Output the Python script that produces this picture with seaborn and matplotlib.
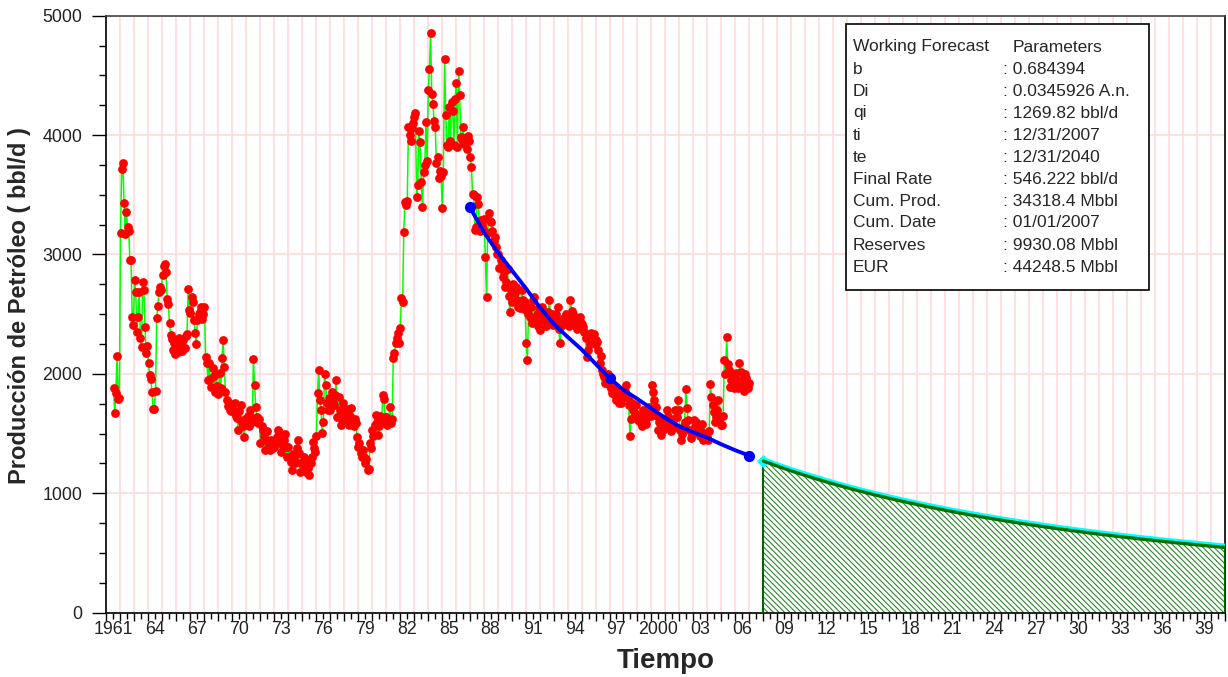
import numpy as np
import pandas as pd
import seaborn as sns
import matplotlib.pyplot as plt
import matplotlib.transforms as mtransforms
from matplotlib.ticker import MultipleLocator, FixedLocator, FuncFormatter, NullFormatter
from matplotlib.patches import Rectangle

# monthly oil rate (bbl/d), Jul 1961 .. Dec 2006
rate_1960s = [1880, 1670, 1840, 2150, 1790, 1800,
              3180, 3720, 3770, 3430, 3170, 3360, 3230, 3200, 2950, 2950, 2480, 2410,
              2786, 2690, 2354, 2479, 2690, 2300, 2228, 2773, 2703, 2396, 2172, 2230,
              2094, 1991, 1955, 1851, 1703, 1710, 1860, 2466, 2571, 2689, 2731, 2700,
              2828, 2904, 2920, 2850, 2624, 2585, 2429, 2325, 2290, 2200, 2260, 2170,
              2230, 2180, 2300, 2210, 2250, 2190, 2280, 2220, 2316, 2330, 2708, 2535,
              2506, 2642, 2600, 2450, 2340, 2250, 2450, 2500, 2521, 2560, 2460, 2500,
              2563, 2144, 2090, 1949, 2088, 1960, 1894, 2050, 1980, 1850, 2000, 1900,
              1832, 2005, 1880, 2130, 2284, 2060, 1850, 1782, 1730, 1760, 1700, 1690]
rate_1970s = [1725, 1683, 1760, 1650, 1628, 1530, 1690, 1740, 1600, 1560, 1475, 1620,
              1600, 1650, 1560, 1700, 1640, 1600, 2122, 1906, 1726, 1640, 1590, 1620,
              1420, 1560, 1530, 1480, 1360, 1450, 1520, 1400, 1363, 1450, 1420, 1380,
              1390, 1440, 1475, 1530, 1510, 1420, 1350, 1400, 1450, 1500, 1390, 1306,
              1390, 1306, 1260, 1195, 1330, 1290, 1250, 1380, 1447, 1334, 1180, 1250,
              1250, 1300, 1220, 1180, 1260, 1210, 1152, 1250, 1300, 1433, 1380, 1350,
              1480, 1840, 2033, 1783, 1700, 1503, 1600, 1997, 1906, 1754, 1700, 1800,
              1700, 1850, 1760, 1740, 1820, 1948, 1642, 1810, 1700, 1573, 1620, 1760,
              1680, 1620, 1710, 1614, 1573, 1650, 1712, 1600, 1560, 1620, 1590, 1475,
              1390, 1420, 1334, 1300, 1360, 1306, 1250, 1290, 1195, 1200, 1420, 1380]
rate_1980s = [1530, 1480, 1573, 1656, 1600, 1489, 1560, 1650, 1600, 1824, 1790, 1640,
              1642, 1573, 1600, 1726, 1586, 1620, 2130, 2172, 2256, 2300, 2340, 2255,
              2382, 2633, 2600, 3191, 3442, 3414, 3450, 4071, 4001, 3954, 4060, 4100,
              4154, 4182, 3484, 3582, 4038, 3940, 3610, 3400, 3694, 3750, 4108, 3780,
              4378, 4551, 4853, 4345, 4261, 4122, 4071, 3763, 3820, 3638, 3700, 3660,
              3387, 3694, 4635, 4168, 3913, 3900, 4238, 3950, 4281, 4200, 3920, 4300,
              4435, 3898, 4540, 4335, 3980, 3960, 4071, 3926, 3950, 3885, 3990, 3950,
              3820, 3733, 3507, 3500, 3205, 3230, 3484, 3422, 3200, 3288, 3250, 3210,
              3300, 2976, 2641, 3180, 3344, 3280, 3269, 3200, 3116, 3150, 3060, 3000,
              3005, 2885, 2950, 2900, 2815, 2850, 2730, 2770, 2880, 2650, 2522, 2700]
rate_1990s = [2605, 2750, 2680, 2731, 2619, 2563, 2600, 2550, 2700, 2619, 2540, 2600,
              2256, 2117, 2500, 2480, 2560, 2424, 2620, 2647, 2450, 2500, 2400, 2550,
              2368, 2450, 2563, 2500, 2480, 2400, 2420, 2520, 2619, 2450, 2500, 2410,
              2470, 2430, 2500, 2563, 2380, 2256, 2400, 2460, 2430, 2480, 2500, 2420,
              2450, 2400, 2619, 2530, 2500, 2430, 2460, 2400, 2380, 2450, 2480, 2430,
              2420, 2396, 2350, 2300, 2144, 2200, 2280, 2250, 2340, 2300, 2330, 2250,
              2280, 2270, 2200, 2089, 2150, 2033, 2000, 1977, 1921, 1950, 2000, 1960,
              1900, 1880, 1838, 1870, 1820, 1780, 1850, 1800, 1760, 1754, 1810, 1830,
              1810, 1860, 1907, 1800, 1740, 1480, 1620, 1754, 1700, 1670, 1740, 1650,
              1614, 1650, 1600, 1560, 1700, 1660, 1600, 1580, 1640, 1720, 1680, 1650]
rate_2000s = [1907, 1851, 1782, 1720, 1650, 1530, 1600, 1614, 1488, 1530, 1580, 1560,
              1600, 1698, 1650, 1560, 1520, 1600, 1550, 1620, 1700, 1640, 1780, 1698,
              1530, 1446, 1500, 1560, 1600, 1871, 1712, 1614, 1530, 1460, 1500, 1520,
              1614, 1560, 1600, 1502, 1550, 1480, 1520, 1580, 1450, 1500, 1460, 1470,
              1446, 1520, 1915, 1810, 1740, 1684, 1600, 1642, 1700, 1780, 1640, 1572,
              1572, 1650, 2117, 2000, 2306, 2080, 2033, 1893, 1950, 2000, 1880, 1960,
              2005, 1940, 1880, 2089, 2020, 1950, 1900, 1860, 2000, 1963, 1880, 1920]

# decline fit through the history (blue line)
fit_years = list(range(1987, 2008))
fit_rate = [3400, 3190, 3020, 2870, 2720, 2560, 2420, 2310, 2205, 2085, 1965,
            1865, 1790, 1710, 1630, 1560, 1510, 1465, 1410, 1360, 1315]

# working forecast 12/31/2007 .. 12/31/2040
forecast_years = list(range(2008, 2042))
forecast_rate = [1269.8, 1227.1, 1186.8, 1148.7, 1112.6, 1078.3, 1045.8, 1014.9,
                 985.6, 957.6, 930.9, 905.5, 881.2, 858.0, 835.8, 814.5, 794.2,
                 774.7, 755.9, 738.0, 720.7, 704.1, 688.1, 672.8, 658.0, 643.8,
                 630.0, 616.8, 604.0, 591.6, 579.7, 568.2, 557.0, 546.2]

param_names = ['b', 'Di', 'qi', 'ti', 'te', 'Final Rate', 'Cum. Prod.',
               'Cum. Date', 'Reserves', 'EUR']
param_values = ['0.684394', '0.0345926 A.n.', '1269.82 bbl/d', '12/31/2007',
                '12/31/2040', '546.222 bbl/d', '34318.4 Mbbl', '01/01/2007',
                '9930.08 Mbbl', '44248.5 Mbbl']

rate = rate_1960s + rate_1970s + rate_1980s + rate_1990s + rate_2000s
months = pd.date_range('1961-07-01', periods=len(rate), freq='MS')
hist = pd.DataFrame({'t': months.year + (months.month - 0.5) / 12, 'rate': rate})
fit = pd.DataFrame({'t': fit_years, 'rate': fit_rate})
fc = pd.DataFrame({'t': forecast_years, 'rate': forecast_rate})

sns.set_style('ticks')
plt.rcParams['font.family'] = ['Liberation Sans', 'DejaVu Sans']
plt.rcParams['hatch.color'] = '#2a8a2a'
plt.rcParams['hatch.linewidth'] = 0.8

fig = plt.figure(figsize=(12.28, 6.77), dpi=100)
ax = fig.add_axes([0.0863, 0.0950, 0.9112, 0.8818])

# forecast area
ax.fill_between(fc['t'], fc['rate'], 0, facecolor='white', edgecolor='#2a8a2a',
                hatch='\\\\\\\\\\\\', linewidth=0, zorder=2)
ax.vlines([forecast_years[0], forecast_years[-1]], 0, [forecast_rate[0], forecast_rate[-1]],
          color='#006400', lw=1.5, zorder=3)

# history
sns.lineplot(data=hist, x='t', y='rate', color='#00ff00', lw=1.1, estimator=None, ax=ax, zorder=3)
sns.scatterplot(data=hist, x='t', y='rate', color='#ff0000', s=40, marker='o',
                linewidth=0, ax=ax, zorder=4)

# fit
sns.lineplot(data=fit, x='t', y='rate', color='#0000ff', lw=2.8, estimator=None, ax=ax, zorder=5)
sns.scatterplot(data=fit.iloc[[0, 10, 20]], x='t', y='rate', color='#0000ff', s=65,
                marker='o', linewidth=0, ax=ax, zorder=5)

# forecast curve
shift = mtransforms.offset_copy(ax.transData, fig=fig, x=0, y=2.2, units='dots')
ax.plot(fc['t'], fc['rate'], color='#00ffff', lw=2.6, transform=shift, zorder=5)
sns.lineplot(data=fc, x='t', y='rate', color='#007000', lw=2.4, estimator=None, ax=ax, zorder=6)
sns.scatterplot(data=fc.iloc[[0]], x='t', y='rate', color='#00ffff', s=45, marker='D',
                linewidth=0, ax=ax, zorder=5)

ax.set_xlim(1961, 2041)
ax.set_ylim(0, 5000)


def year_label(v, pos):
    y = int(round(v - 0.5))
    if (y - 1961) % 3:
        return ''
    return str(y) if y in (1961, 2000) else f'{y % 100:02d}'


ax.xaxis.set_major_locator(MultipleLocator(1))
ax.xaxis.set_major_formatter(NullFormatter())
ax.xaxis.set_minor_locator(FixedLocator(np.arange(1961.5, 2041, 1)))
ax.xaxis.set_minor_formatter(FuncFormatter(year_label))
ax.yaxis.set_major_locator(MultipleLocator(1000))
ax.yaxis.set_minor_locator(MultipleLocator(250))

ax.tick_params(axis='x', which='major', length=6, width=1, color='black')
ax.tick_params(axis='x', which='minor', length=4, width=1, color='black',
               labelsize=12.8, pad=2, labelcolor='#222222')
ax.tick_params(axis='y', which='major', length=10, width=1, color='black',
               labelsize=12.8, pad=7, labelcolor='#222222')
ax.tick_params(axis='y', which='minor', length=5, width=1, color='black')

ax.grid(which='major', color='#ffdcdc', lw=1.3)
ax.set_axisbelow(True)
for side, sp in ax.spines.items():
    sp.set_color('#444444' if side == 'top' else 'black')
    sp.set_linewidth(1.2)

ax.set_xlabel('Tiempo', fontsize=20, fontweight='bold')
ax.xaxis.set_label_coords(0.5, -0.081)
ax.xaxis.label.set_va('center')
ax.set_ylabel('Producción de Petróleo ( bbl/d )', fontsize=17, fontweight='bold')
ax.yaxis.set_label_coords(-0.0769, 0.515)
ax.yaxis.label.set_va('center')

# parameter box
W, H = 1228, 677
fig.patches.append(Rectangle((846 / W, 1 - 290 / H), 303 / W, 266 / H,
                             transform=fig.transFigure, facecolor='white',
                             edgecolor='black', lw=1.2, zorder=10))
fs = 12.5
fig.text(853 / W, 1 - 47 / H, 'Working Forecast', fontsize=fs, va='center', zorder=11)
fig.text(1013 / W, 1 - 47 / H, 'Parameters', fontsize=fs, va='center', zorder=11)
for i, (name, val) in enumerate(zip(param_names, param_values)):
    yy = 1 - (69 + 22 * i) / H
    fig.text(853 / W, yy, name, fontsize=fs, va='center', zorder=11)
    fig.text(1003 / W, yy, ': ' + val, fontsize=fs, va='center', zorder=11)

fig.savefig('out.png', dpi=100)
